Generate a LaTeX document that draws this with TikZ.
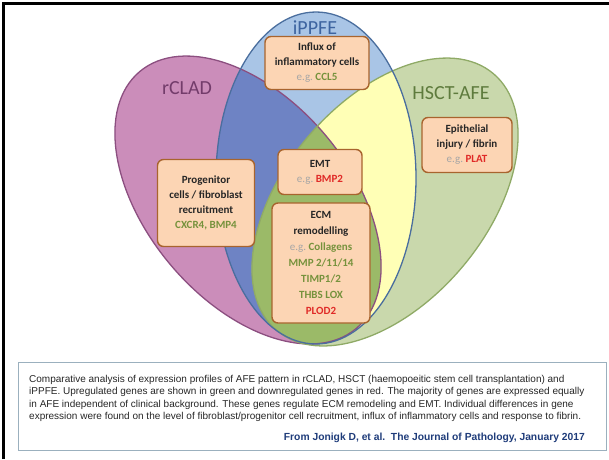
\documentclass[tikz,border=0pt]{standalone}
\usepackage{fontspec}
\usepackage{tikz}
\setmainfont{Carlito}
\newfontfamily\capfont{Liberation Sans}

\definecolor{cladfill}{HTML}{CB8DBA}
\definecolor{cladline}{HTML}{8C4F80}
\definecolor{cladtext}{HTML}{733C6B}
\definecolor{ppfefill}{HTML}{A9C5E6}
\definecolor{ppfeline}{HTML}{4A6E9E}
\definecolor{ppfetext}{HTML}{3D64A0}
\definecolor{hsctfill}{HTML}{C9D8AC}
\definecolor{hsctline}{HTML}{8FAA66}
\definecolor{hscttext}{HTML}{5E7B3D}
\definecolor{darkblue}{HTML}{6E83C4}
\definecolor{paleyellow}{HTML}{FFFFB6}
\definecolor{midgreen}{HTML}{9BBA68}
\definecolor{boxfill}{HTML}{FCD5B4}
\definecolor{boxline}{HTML}{A8642E}
\definecolor{genegreen}{HTML}{76923C}
\definecolor{genered}{HTML}{E02A27}
\definecolor{eggray}{HTML}{A6A6A6}
\definecolor{capline}{HTML}{9BB0BE}
\definecolor{citeblue}{HTML}{1F3C7A}

\newcommand\cladshape{[rotate around={-49.8:(248,200)}] (248,200) ellipse (168 and 101)}
\newcommand\ppfeshape{(316,178) ellipse (100 and 166)}
\newcommand\hsctshape{[rotate around={49.8:(385,202)}] (385,202) ellipse (168 and 101)}
\newcommand\eg{\textcolor{eggray}{\mdseries e.g.}}
\newcommand\up[1]{\textcolor{genegreen}{#1}}
\newcommand\down[1]{\textcolor{genered}{#1}}

\tikzset{
  genebox/.style={draw=boxline, fill=boxfill, line width=1.4pt, rounded corners=6pt,
    inner sep=0pt, align=center, font=\fontsize{11}{15}\selectfont\bfseries, text=black!85},
  setlabel/.style={font=\fontsize{20}{24}\selectfont}
}

\begin{document}
\begin{tikzpicture}[x=1pt,y=-1pt] % 3 sets, 5 boxes
      \useasboundingbox (0,0) rectangle (609,459);
      \fill[cladfill] \cladshape;
      \fill[hsctfill] \hsctshape;
      \fill[ppfefill] \ppfeshape;
      \begin{scope}
        \clip \ppfeshape;
        \fill[darkblue] \cladshape;
        \fill[paleyellow] \hsctshape;
        \clip \cladshape;
        \fill[midgreen] \hsctshape;
      \end{scope}
      \draw[cladline, line width=1.3pt] \cladshape;
      \draw[hsctline, line width=1.3pt] \hsctshape;
      \draw[ppfeline, line width=1.3pt] \ppfeshape;

      \node[name=clad, setlabel, text=cladtext] at (187,88) {rCLAD};
      \node[name=ppfe, setlabel, text=ppfetext] at (315,28) {iPPFE};
      \node[name=hsct, setlabel, text=hscttext] at (451,93) {HSCT-AFE};

      \node[name=influx, genebox, minimum width=104pt, minimum height=53pt] at (317,63)
        {Influx of\\inflammatory cells\\\eg\ \up{CCL5}};
      \node[name=epith, genebox, minimum width=90pt, minimum height=55pt] at (467,145)
        {Epithelial\\injury / fibrin\\\eg\ \down{PLAT}};
      \node[name=emt, genebox, minimum width=84pt, minimum height=45pt] at (320,172)
        {EMT\\\eg\ \down{BMP2}};
      \node[name=prog, genebox, minimum width=97pt, minimum height=87pt] at (206,203)
        {Progenitor\\cells / fibroblast\\recruitment\\\up{CXCR4, BMP4}};
      \node[name=ecm, genebox, minimum width=98pt, minimum height=120pt,
        font=\fontsize{11}{16}\selectfont\bfseries] at (321,263)
        {ECM\\remodelling\\\eg\ \up{Collagens}\\\up{MMP 2/11/14}\\\up{TIMP1/2}\\\up{THBS LOX}\\\down{PLOD2}};

      \node[name=capbox, draw=capline, line width=1.2pt, minimum width=588pt, minimum height=88pt,
        anchor=north west, inner sep=0pt] at (18,362) {};
      \node[name=caption, anchor=north west, inner sep=0pt, align=left,
        font=\capfont\fontsize{10}{12.5}\selectfont, text=black!85] at (29,375)
        {Comparative analysis of expression profiles of AFE pattern in rCLAD, HSCT (haemopoeitic stem cell transplantation) and\\
         iPPFE. Upregulated genes are shown in green and downregulated genes in red. The majority of genes are expressed equally\\
         in AFE independent of clinical background. These genes regulate ECM remodeling and EMT. Individual differences in gene\\
         expression were found on the level of fibroblast/progenitor cell recruitment, influx of inflammatory cells and response to fibrin.};
      \node[name=cite, anchor=base east, inner sep=0pt, text=citeblue,
        font=\capfont\fontsize{10.3}{12}\selectfont\bfseries] at (585,440)
        {From Jonigk D, et al.\ \ The Journal of Pathology, January 2017};

      \draw[black, line width=3pt] (3,459) -- (3,3) -- (609,3);
   \end{tikzpicture}
\end{document}
